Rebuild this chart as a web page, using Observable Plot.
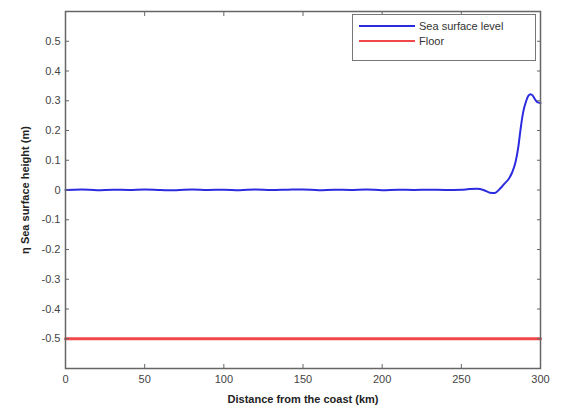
<!DOCTYPE html>
<html><head><meta charset="utf-8">
<script src="https://cdn.jsdelivr.net/npm/d3@7"></script>
<script src="https://cdn.jsdelivr.net/npm/@observablehq/plot@0.6"></script>
<style>
body{margin:0;background:#fff;font-family:"Liberation Sans",Arial,sans-serif;}
#wrap{position:relative;width:563px;height:408px;}
#legend{position:absolute;left:352px;top:14px;width:184px;height:47px;border:1px solid #777;background:#fff;box-sizing:border-box;font-size:11px;color:#333;}
#legend .row{position:absolute;left:6px;display:flex;align-items:center;}
#legend .sw{width:56px;height:0;border-top-width:2.5px;border-top-style:solid;margin-right:4px;}
</style></head>
<body><div id="wrap"></div>
<script>
const distanceKm = [0,10,20,30,40,50,60,70,80,90,100,110,120,130,140,150,160,170,180,190,200,210,220,230,240,250,255,260,264,268,271,274.7,277,280,282,284.2,286,287.4,289,291,292.5,293.7,295,296.5,298,300];
const seaLevel   = [0,0.002,-0.001,0.001,0,0.002,0,-0.001,0.002,0,0.001,-0.001,0.002,0,0.001,0.002,-0.001,0.001,0,0.002,-0.001,0.001,0,0.001,0,0.001,0.003,0.004,0,-0.009,-0.01,0.006,0.02,0.038,0.058,0.093,0.145,0.204,0.26,0.3,0.318,0.322,0.318,0.305,0.295,0.292];
const floorKm = [0,300];
const floorLevel = [-0.5,-0.5];
const xTicks = [0,50,100,150,200,250,300];
const yTicks = [-0.5,-0.4,-0.3,-0.2,-0.1,0,0.1,0.2,0.3,0.4,0.5];
const seriesNames = ["Sea surface level","Floor"];
const seriesColors = ["#2b2be0","#f04848"];

const sea = distanceKm.map((d,i)=>({x:d,y:seaLevel[i]}));
const flo = floorKm.map((d,i)=>({x:d,y:floorLevel[i]}));
const fmt = d => d===0 ? "0" : String(d);
const blank = () => "";

const chart = Plot.plot({
  width:563, height:408,
  marginLeft:65, marginRight:23, marginTop:11, marginBottom:40,
  style:{fontFamily:"Liberation Sans, Arial, sans-serif", fontSize:"11px", color:"#444"},
  x:{domain:[0,300]},
  y:{domain:[-0.6,0.6]},
  marks:[
    Plot.line(flo,{x:"x",y:"y",stroke:seriesColors[1],strokeWidth:3}),
    Plot.line(sea,{x:"x",y:"y",stroke:seriesColors[0],strokeWidth:2,curve:"monotone-x"}),
    Plot.axisX(xTicks,{anchor:"bottom",tickSize:-4,tickPadding:11,tickFormat:fmt,label:"Distance from the coast (km)",labelAnchor:"center",labelOffset:34,labelArrow:"none",stroke:"#666"}),
    Plot.axisX(xTicks,{anchor:"top",tickSize:-4,tickFormat:blank,label:null,stroke:"#666"}),
    Plot.axisY(yTicks,{anchor:"left",tickSize:-4,tickPadding:9,tickFormat:fmt,label:"η Sea surface height (m)",labelAnchor:"center",labelOffset:44,labelArrow:"none",stroke:"#666"}),
    Plot.axisY(yTicks,{anchor:"right",tickSize:-4,tickFormat:blank,label:null,stroke:"#666"}),
    Plot.frame({stroke:"#666",strokeWidth:1.5})
  ]
});
d3.select(chart).selectAll("[aria-label$='axis label'] text").style("font-weight","bold").style("fill","#222");
document.getElementById("wrap").appendChild(chart);

const lg = document.createElement("div");
lg.id="legend";
seriesNames.forEach((n,i)=>{
  const r=document.createElement("div");r.className="row";r.style.top=(i===0?11:26)+"px";
  r.style.transform="translateY(-50%)";
  const s=document.createElement("div");s.className="sw";s.style.borderTopColor=seriesColors[i];
  const t=document.createElement("span");t.textContent=n;
  r.appendChild(s);r.appendChild(t);lg.appendChild(r);
});
document.getElementById("wrap").appendChild(lg);
</script></body></html>
